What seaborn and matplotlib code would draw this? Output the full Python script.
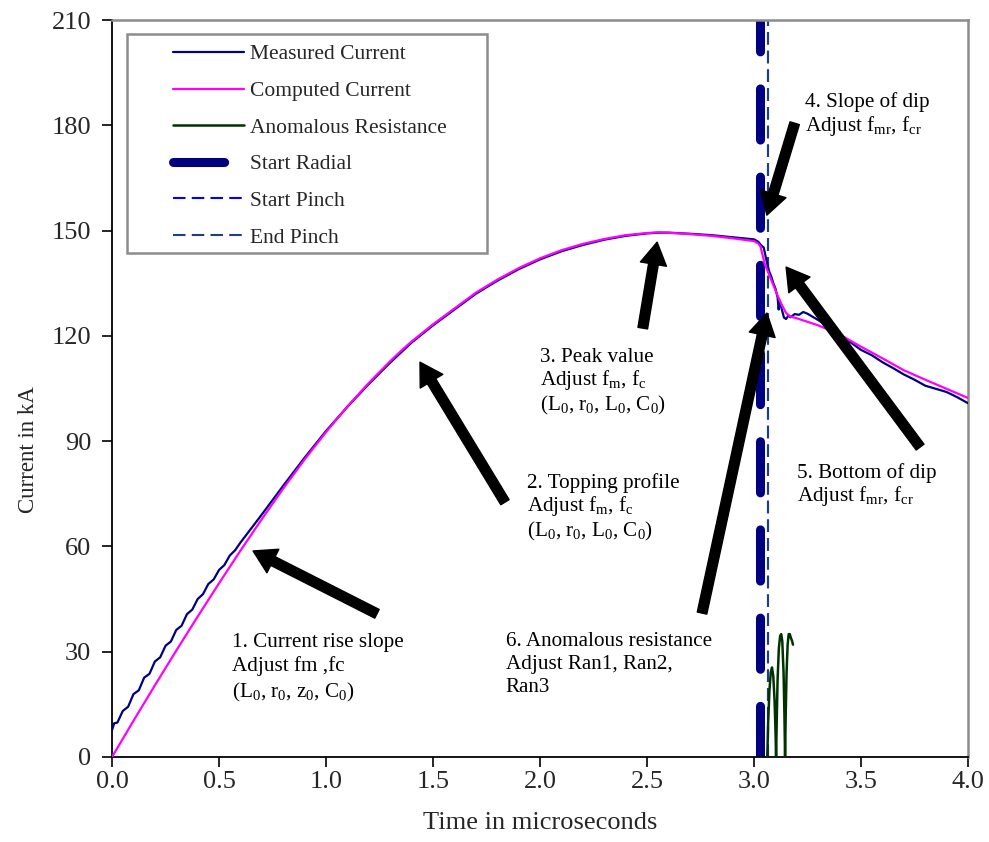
import numpy as np
import pandas as pd
import matplotlib
matplotlib.use("Agg")
import matplotlib.pyplot as plt
import seaborn as sns

# Computed current (kA) vs time (microseconds)
t_comp = [0.0, 0.1, 0.2, 0.3, 0.4, 0.5, 0.6, 0.7, 0.8, 0.9, 1.0, 1.1, 1.2, 1.3, 1.35,
          1.4, 1.5, 1.6, 1.7, 1.8, 1.9, 2.0, 2.1, 2.2, 2.3, 2.4, 2.5, 2.55, 2.6, 2.7, 2.8,
          2.9, 3.0, 3.02, 3.03, 3.04, 3.05, 3.07, 3.09, 3.11, 3.13, 3.15, 3.17, 3.2,
          3.3, 3.4, 3.5, 3.6, 3.7, 3.8, 3.9, 4.0]
i_comp = [0.0, 10.3, 20.4, 30.3, 40.0, 49.5, 58.8, 67.8, 76.5, 84.8, 92.6, 99.9, 106.6, 112.8, 115.7,
          118.4, 123.3, 127.8, 132.3, 136.0, 139.3, 142.1, 144.4, 146.2, 147.6, 148.7, 149.3, 149.5, 149.4, 149.0, 148.5,
          147.8, 147.0, 146.3, 145.5, 143.0, 140.5, 137.5, 134.5, 131.5, 128.8, 126.5, 125.5, 125.0,
          123.0, 120.4, 116.9, 113.6, 110.2, 107.5, 104.9, 102.3]

# Measured current (kA)
t_meas = [0.0, 0.01, 0.025, 0.05, 0.075, 0.1, 0.125, 0.15, 0.175, 0.2, 0.225, 0.25, 0.275, 0.3,
          0.325, 0.35, 0.375, 0.4, 0.425, 0.45, 0.475, 0.5, 0.525, 0.55, 0.575, 0.6, 0.65, 0.7,
          0.8, 0.9, 1.0, 1.1, 1.2, 1.3, 1.4, 1.5, 1.6, 1.7, 1.8, 1.9, 2.0, 2.1, 2.2, 2.3, 2.4,
          2.5, 2.55, 2.6, 2.7, 2.8, 2.9, 3.0, 3.02, 3.03, 3.045, 3.06, 3.07, 3.08, 3.09, 3.1, 3.11,
          3.115, 3.12, 3.13, 3.14, 3.15, 3.16, 3.17, 3.19, 3.21, 3.23, 3.25, 3.3, 3.35, 3.4,
          3.45, 3.5, 3.55, 3.6, 3.65, 3.7, 3.75, 3.8, 3.85, 3.9, 3.95, 4.0]
i_meas = [7.7, 9.6, 9.8, 13.1, 14.3, 17.9, 19.0, 22.6, 23.7, 27.2, 28.4, 31.7, 32.9, 36.2,
          37.4, 40.7, 42.0, 45.0, 46.4, 49.3, 50.6, 53.3, 54.7, 57.4, 58.9, 61.1, 65.1, 69.1,
          77.3, 85.3, 92.9, 99.8, 106.3, 112.4, 118.1, 123.0, 127.5, 132.0, 135.7, 139.0, 141.8, 144.1, 145.9, 147.4, 148.5,
          149.2, 149.4, 149.4, 149.1, 148.7, 148.1, 147.5, 146.8, 146.0, 145.2, 141.0, 138.5, 137.0, 135.0, 133.5, 131.0,
          127.5, 130.0, 127.5, 125.2, 124.8, 125.8, 125.3, 126.2, 126.0, 126.8, 126.3, 124.5, 122.5, 120.3,
          118.2, 116.0, 114.5, 112.5, 110.8, 109.0, 107.5, 105.8, 104.9, 104.0, 102.5, 100.8]

# Anomalous resistance trace
t_anom = [3.062, 3.066, 3.072, 3.078, 3.084, 3.090, 3.096, 3.100, 3.103, 3.106, 3.110, 3.116,
          3.122, 3.127, 3.132, 3.138, 3.142, 3.145, 3.148, 3.152, 3.157, 3.162, 3.167, 3.172,
          3.178, 3.182]
r_anom = [0, 10, 19, 24, 25.5, 23, 16, 8, 0, 10, 22, 31, 34.5, 35, 33, 24, 12, 0, 12, 24, 32,
          35, 35, 34, 33, 32]

# Phase markers (microseconds)
t_start_radial = 3.03
t_start_pinch = 3.063
t_end_pinch = 3.066

x_ticks = [0.0, 0.5, 1.0, 1.5, 2.0, 2.5, 3.0, 3.5, 4.0]
y_ticks = [0, 30, 60, 90, 120, 150, 180, 210]

sns.set_theme(style="white")
plt.rcParams["font.family"] = ["Liberation Serif", "DejaVu Serif"]
plt.rcParams["mathtext.fontset"] = "custom"
plt.rcParams["mathtext.rm"] = "Liberation Serif"
plt.rcParams["mathtext.it"] = "Liberation Serif:italic"

fig = plt.figure(figsize=(9.89, 8.42), dpi=100)
ax = fig.add_axes([0.1133, 0.101, 0.8655, 0.8752])

meas = pd.DataFrame({"t": t_meas, "I": i_meas})
comp = pd.DataFrame({"t": t_comp, "I": i_comp})
anom = pd.DataFrame({"t": t_anom, "R": r_anom})

sns.lineplot(data=meas, x="t", y="I", ax=ax, color="#000080", lw=1.6,
             sort=False, estimator=None, label="Measured Current", zorder=3)
sns.lineplot(data=comp, x="t", y="I", ax=ax, color="#FF00FF", lw=1.6,
             sort=False, estimator=None, label="Computed Current", zorder=4)
sns.lineplot(data=anom, x="t", y="R", ax=ax, color="#003300", lw=1.8,
             sort=False, estimator=None, label="Anomalous Resistance", zorder=3)

ax.plot([t_start_radial, t_start_radial], [0, 210], color="#000080", lw=6.5,
        linestyle=(0, (5.67, 4.1)), dash_capstyle="round", solid_capstyle="round",
        label="Start Radial", zorder=2)
ax.plot([t_start_pinch, t_start_pinch], [0, 210], color="#0000FF", lw=1.5,
        linestyle=(0, (6, 3)), label="Start Pinch", zorder=2)
ax.plot([t_end_pinch, t_end_pinch], [0, 210], color="#1F3F7F", lw=1.5,
        linestyle=(0, (6, 3)), label="End Pinch", zorder=2)

ax.set_xlim(0, 4)
ax.set_ylim(0, 210)
ax.set_xticks(x_ticks)
ax.set_xticklabels([f"{v:.1f}" for v in x_ticks])
ax.set_yticks(y_ticks)
ax.tick_params(axis="both", direction="out", length=7, width=1.2, color="black",
               labelsize=19, bottom=True, left=True)
ax.tick_params(axis="x", pad=3)
ax.tick_params(axis="y", pad=8)
ax.set_xlabel("Time in microseconds", fontsize=19, labelpad=14)
ax.set_ylabel("Current in kA", fontsize=16.5)
ax.yaxis.set_label_coords(-0.085, 0.4166)
ax.grid(False)

for side in ["left", "bottom"]:
    ax.spines[side].set_color("black")
    ax.spines[side].set_linewidth(1.3)
for side in ["top", "right"]:
    ax.spines[side].set_color("#8c8c8c")
    ax.spines[side].set_linewidth(1.8)

# legend with a wide hand-drawn frame
leg = ax.legend(loc="upper left", bbox_to_anchor=(0.071, 0.967), frameon=False,
                fontsize=15.5, handlelength=3.3, handletextpad=0.3, labelspacing=0.77,
                borderpad=0, borderaxespad=0)
ax.add_patch(plt.Rectangle((0.0175, 0.684), 0.4205, 0.297, transform=ax.transAxes,
                           fill=True, facecolor="white", edgecolor="#8c8c8c", lw=1.8, zorder=5))
leg.set_zorder(6)

arrow = dict(facecolor="black", edgecolor="black", width=7, headwidth=19, headlength=16, shrink=0)
notes = [
    ((0.659, 58.7), (1.238, 40.8), (0.561, 35.4), 1.3,
     "1. Current rise slope\nAdjust fm ,fc\n(L$_0$, r$_0$, z$_0$, C$_0$)"),
    ((1.439, 112.5), (1.836, 72.6), (1.94, 81.0), 1.1,
     "2. Topping profile\nAdjust f$_\\mathrm{m}$, f$_\\mathrm{c}$\n(L$_0$, r$_0$, L$_0$, C$_0$)"),
    ((2.547, 146.7), (2.48, 122.2), (2.0, 116.6), 1.1,
     "3. Peak value\nAdjust f$_\\mathrm{m}$, f$_\\mathrm{c}$\n(L$_0$, r$_0$, L$_0$, C$_0$)"),
    ((3.06, 154.4), (3.19, 180.6), (3.24, 189.5), 1.1,
     "4. Slope of dip\nAdjust f$_\\mathrm{mr}$, f$_\\mathrm{cr}$"),
    ((3.15, 139.6), (3.776, 88.3), (3.2, 83.8), 1.1,
     "5. Bottom of dip\nAdjust f$_\\mathrm{mr}$, f$_\\mathrm{cr}$"),
    ((3.06, 126.5), (2.757, 41.0), (1.84, 35.6), 1.3,
     "6. Anomalous resistance\nAdjust Ran1, Ran2,\nRan3"),
]
for tip, tail, txt_pos, spacing, txt in notes:
    ax.annotate("", xy=tip, xytext=tail, arrowprops=arrow, zorder=7)
    ax.text(txt_pos[0], txt_pos[1], txt, fontsize=15.2, ha="left", va="top",
            linespacing=spacing, color="black", zorder=7)

fig.savefig("out.png", dpi=100, facecolor="white")
